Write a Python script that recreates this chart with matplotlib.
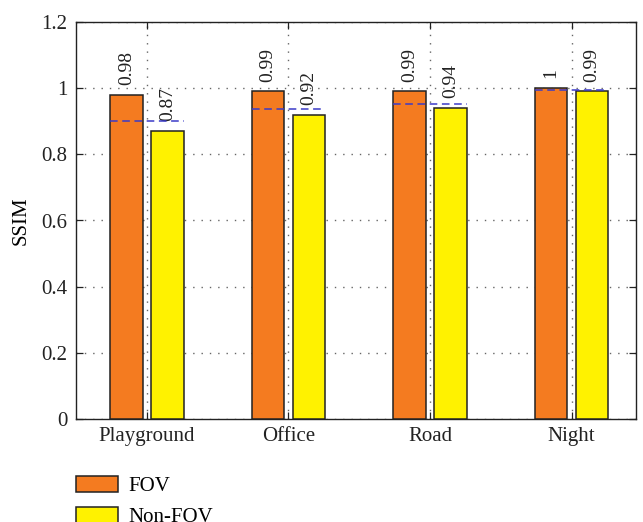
import matplotlib
matplotlib.use("Agg")
import matplotlib.pyplot as plt
import numpy as np

categories = ["Playground", "Office", "Road", "Night"]
fov = [0.98, 0.99, 0.99, 1.00]
non_fov = [0.87, 0.92, 0.94, 0.99]
fov_labels = ["0.98", "0.99", "0.99", "1"]
non_fov_labels = ["0.87", "0.92", "0.94", "0.99"]
reference = [0.90, 0.937, 0.951, 0.993]
yticks = [0, 0.2, 0.4, 0.6, 0.8, 1.0, 1.2]
ytick_labels = ["0", "0.2", "0.4", "0.6", "0.8", "1", "1.2"]

plt.rcParams['font.family'] = ['Liberation Serif', 'DejaVu Serif']

W, H = 643, 522
fig = plt.figure(figsize=(W / 100, H / 100), dpi=100)
ax = fig.add_axes([76 / W, 1 - 419 / H, (636 - 76) / W, (419 - 22) / H])

x = np.arange(len(categories))
width = 0.23
off = 0.145
orange = '#F47B20'
yellow = '#FFF200'

b1 = ax.bar(x - off, fov, width, color=orange, edgecolor='#222222', linewidth=1.1, label='FOV', zorder=3)
b2 = ax.bar(x + off, non_fov, width, color=yellow, edgecolor='#222222', linewidth=1.1, label='Non-FOV', zorder=3)

for i in range(len(categories)):
    ax.plot([x[i] - off - width / 2, x[i] + off + width / 2], [reference[i], reference[i]],
            linestyle=(0, (5, 3)), color='#3a3ac8', linewidth=1.1, zorder=4)
    ax.annotate(fov_labels[i], (x[i] - off, fov[i]), xytext=(0, 7), textcoords='offset points',
                rotation=90, ha='center', va='bottom', fontsize=14, color='#222222')
    ax.annotate(non_fov_labels[i], (x[i] + off, non_fov[i]), xytext=(0, 7), textcoords='offset points',
                rotation=90, ha='center', va='bottom', fontsize=14, color='#222222')

ax.set_xlim(-0.5, 3.455)
ax.set_ylim(0, 1.2)
ax.set_xticks(x)
ax.set_xticklabels(categories, fontsize=15)
ax.set_yticks(yticks)
ax.set_yticklabels(ytick_labels, fontsize=15)
ax.set_ylabel('SSIM', fontsize=15, labelpad=8)
ax.tick_params(direction='in', top=True, right=True, length=5, width=0.9, colors='#222222', pad=6)
ax.grid(True, linestyle=(0, (1, 5)), color='#666666', linewidth=1.0, zorder=0)
ax.set_axisbelow(True)
for s in ax.spines.values():
    s.set_linewidth(1.0)
    s.set_color('#222222')

fig.legend(handles=[b1, b2], labels=['FOV', 'Non-FOV'], loc='upper left',
           bbox_to_anchor=(76 / W, 1 - 476 / H), frameon=False, fontsize=15,
           handlelength=2.0, handleheight=0.8, handletextpad=0.5, labelspacing=0.5,
           borderpad=0, borderaxespad=0)

fig.savefig('out.png', dpi=100)
